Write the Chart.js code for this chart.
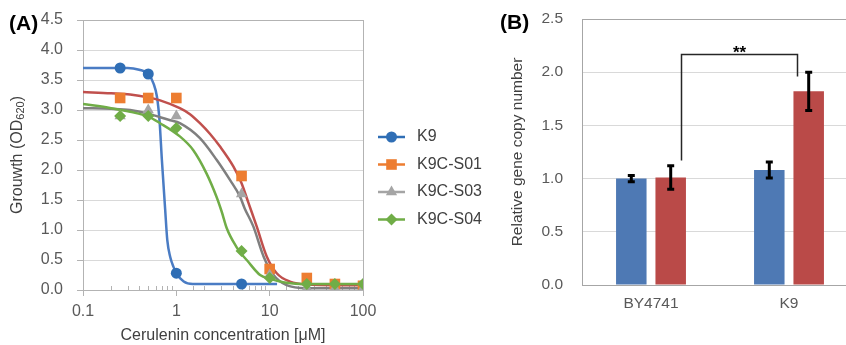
<!DOCTYPE html>
<html lang="en">
<head>
<meta charset="UTF-8">
<title>Cerulenin growth and gene copy number</title>
<script src="https://cdn.jsdelivr.net/npm/chart.js"></script>
<style>
  html, body { margin: 0; padding: 0; background: #fff; overflow: hidden; }
  #wrap { position: relative; width: 846px; height: 345px; overflow: hidden; }
  #chartA { position: absolute; left: 0; top: 0; }
  #chartB { position: absolute; left: 480px; top: 0; }
</style>
</head>
<body>
<div id="wrap">
  <canvas id="chartA" width="500" height="345"></canvas>
  <canvas id="chartB" width="400" height="345"></canvas>
</div>
<script>
// ---- (A) growth vs cerulenin, measured points ----
const seriesNames = ['K9', 'K9C-S01', 'K9C-S03', 'K9C-S04'];
const concK9 = [0.25, 0.5, 1, 5];
const growthK9 = [3.7, 3.6, 0.28, 0.1];
const concS = [0.25, 0.5, 1, 5, 10, 25, 50, 100];
const growthS01 = [3.2, 3.2, 3.2, 1.9, 0.35, 0.2, 0.1, 0.07];
const growthS03 = [2.9, 3.0, 2.9, 1.6, 0.25, 0.03, 0.03, 0.03];
const growthS04 = [2.9, 2.9, 2.7, 0.65, 0.2, 0.1, 0.1, 0.1];

// fitted curves
const fitK9x = [0.1, 0.2, 0.3, 0.4, 0.5, 0.57, 0.62, 0.66, 0.7, 0.76, 0.8, 0.86, 0.93, 1, 1.2, 1.5, 2, 12];
const fitK9y = [3.70, 3.70, 3.70, 3.67, 3.60, 3.44, 3.22, 2.83, 2.17, 1.33, 0.83, 0.55, 0.39, 0.28, 0.14, 0.10, 0.10, 0.10];
const fitS01x = [0.1, 0.2, 0.32, 0.5, 0.67, 1.09, 1.4, 1.79, 2.3, 2.94, 4.08, 5.0, 5.9, 7.26, 9.3, 11.9, 16.5, 25, 50, 100];
const fitS01y = [3.30, 3.28, 3.26, 3.21, 3.16, 3.03, 2.93, 2.78, 2.60, 2.39, 2.06, 1.78, 1.46, 1.06, 0.56, 0.28, 0.14, 0.09, 0.08, 0.08];
const fitS03x = [0.1, 0.2, 0.32, 0.5, 0.67, 0.86, 1.09, 1.79, 2.7, 3.77, 4.8, 5.4, 6.68, 8.6, 11, 15.2, 25, 50, 100];
const fitS03y = [3.03, 3.02, 3.00, 2.94, 2.88, 2.83, 2.78, 2.53, 2.17, 1.83, 1.56, 1.36, 1.06, 0.56, 0.25, 0.08, 0.03, 0.03, 0.03];
const fitS04x = [0.1, 0.2, 0.32, 0.5, 0.67, 1.09, 1.52, 2.11, 2.7, 3.07, 3.47, 4.4, 5, 5.68, 7.9, 10, 15.2, 25, 50, 100];
const fitS04y = [3.10, 3.03, 2.97, 2.89, 2.78, 2.56, 2.33, 1.94, 1.55, 1.30, 1.03, 0.72, 0.60, 0.50, 0.25, 0.19, 0.12, 0.10, 0.10, 0.10];

// ---- (B) relative gene copy number ----
const strains = ['BY4741', 'K9'];
const copyBlue = [1.0, 1.08];
const errBlue = [0.03, 0.075];
const copyRed = [1.01, 1.82];
const errRed = [0.11, 0.18];
const bracketX = [0.22, 1.06];          // category units
const bracketY = [1.17, 2.17, 1.96];    // left foot, top, right foot
const bracketText = '**';

const FONT = '"Liberation Sans", Arial, sans-serif';
Chart.defaults.font.family = FONT;
Chart.defaults.color = '#595959';

const markerColors = ['#2F6EB5', '#ED7D31', '#A5A5A5', '#70AD47'];
const lineColors = ['#4A7CC4', '#C0504D', '#7F7F7F', '#70AD47'];
const markerStyles = ['circle', 'rect', 'triangle', 'rectRot'];
const markerSizes = [5.5, 7.5, 6.5, 6];

function pts(xs, ys) {
    return xs.map((x, i) => ({ x: x, y: ys[i] }));
}

function markerSet(i, xs, ys, order) {
    return {
        label: seriesNames[i],
        data: pts(xs, ys),
        showLine: false,
        pointStyle: markerStyles[i],
        pointRadius: markerSizes[i],
        pointHoverRadius: markerSizes[i],
        pointBackgroundColor: markerColors[i],
        pointBorderWidth: 0,
        order: order
    };
}

function fitSet(i, xs, ys, order) {
    return {
        label: seriesNames[i] + ' fit',
        data: pts(xs, ys),
        showLine: true,
        pointRadius: 0,
        borderColor: lineColors[i],
        borderWidth: 2.5,
        cubicInterpolationMode: 'monotone',
        fill: false,
        order: order
    };
}

function isDecade(v) {
    const l = Math.log10(v);
    return Math.abs(l - Math.round(l)) < 1e-6;
}

// the y axes must not push the plot down for their top label
function fixY(width) {
    return s => {
        s.width = width;
        s.paddingTop = 0;
        s.paddingBottom = 0;
    };
}

// frame round the plot area
const frame = {
    id: 'frame',
    beforeDatasetsDraw(chart, args, opts) {
        const a = chart.chartArea, ctx = chart.ctx;
        ctx.save();
        ctx.strokeStyle = opts.color;
        ctx.lineWidth = 1;
        ctx.strokeRect(Math.round(a.left) + 0.5, Math.round(a.top) + 0.5,
            Math.round(a.right - a.left), Math.round(a.bottom - a.top));
        ctx.restore();
    }
};

// small minor ticks pointing up into the plot (log axis)
const minorTicks = {
    id: 'minorTicks',
    beforeDatasetsDraw(chart) {
        const xs = chart.scales.x, ctx = chart.ctx, b = chart.chartArea.bottom;
        ctx.save();
        ctx.strokeStyle = '#b3b3b3';
        ctx.lineWidth = 1;
        xs.ticks.forEach(t => {
            if (isDecade(t.value)) return;
            const px = Math.round(xs.getPixelForValue(t.value)) + 0.5;
            ctx.beginPath();
            ctx.moveTo(px, b);
            ctx.lineTo(px, b - 4);
            ctx.stroke();
        });
        ctx.restore();
    }
};

// legend, y title with subscript and panel label for (A)
const decorA = {
    id: 'decorA',
    afterDraw(chart) {
        const ctx = chart.ctx;
        ctx.save();
        seriesNames.forEach((name, i) => {
            const y = 137 + i * 27.5;
            ctx.strokeStyle = markerColors[i];
            ctx.lineWidth = 2.5;
            ctx.beginPath();
            ctx.moveTo(378, y);
            ctx.lineTo(405, y);
            ctx.stroke();
            ctx.fillStyle = markerColors[i];
            Chart.helpers.drawPoint(ctx, { pointStyle: markerStyles[i], radius: markerSizes[i], borderWidth: 0, rotation: 0 }, 391.5, y);
            ctx.fillStyle = '#404040';
            ctx.font = '16px ' + FONT;
            ctx.textBaseline = 'middle';
            ctx.textAlign = 'left';
            ctx.fillText(name, 417, y);
        });

        // y title: Grouwth (OD620)
        const a = chart.chartArea;
        const big = '16px ' + FONT, small = '11px ' + FONT;
        const parts = [['Grouwth (OD', big, 0], ['620', small, 3], [')', big, 0]];
        let total = 0;
        parts.forEach(p => { ctx.font = p[1]; total += ctx.measureText(p[0]).width; });
        ctx.translate(18, (a.top + a.bottom) / 2);
        ctx.rotate(-Math.PI / 2);
        ctx.fillStyle = '#404040';
        ctx.textBaseline = 'middle';
        let x = -total / 2;
        parts.forEach(p => {
            ctx.font = p[1];
            ctx.fillText(p[0], x, p[2]);
            x += ctx.measureText(p[0]).width;
        });
        ctx.restore();

        ctx.save();
        ctx.fillStyle = '#000';
        ctx.font = 'bold 21px ' + FONT;
        ctx.textBaseline = 'middle';
        ctx.fillText('(A)', 9, 24);
        ctx.restore();
    }
};

new Chart(document.getElementById('chartA'), {
    type: 'scatter',
    data: {
        datasets: [
            markerSet(0, concK9, growthK9, 3),
            markerSet(1, concS, growthS01, 2),
            markerSet(2, concS, growthS03, 1),
            markerSet(3, concS, growthS04, 0),
            fitSet(0, fitK9x, fitK9y, 7),
            fitSet(1, fitS01x, fitS01y, 6),
            fitSet(2, fitS03x, fitS03y, 5),
            fitSet(3, fitS04x, fitS04y, 4)
        ]
    },
    options: {
        responsive: false,
        animation: false,
        devicePixelRatio: 1,
        layout: { padding: { top: 20, right: 137, bottom: 0, left: 0 } },
        plugins: {
            legend: { display: false },
            tooltip: { enabled: false },
            frame: { color: '#b3b3b3' }
        },
        scales: {
            x: {
                type: 'logarithmic',
                min: 0.1,
                max: 100,
                afterFit: s => { s.height = 55; },
                border: { display: false },
                grid: {
                    drawOnChartArea: false,
                    tickLength: 6,
                    tickColor: c => (c.tick && isDecade(c.tick.value)) ? '#b3b3b3' : 'rgba(0,0,0,0)'
                },
                ticks: {
                    autoSkip: false,
                    maxRotation: 0,
                    padding: 6,
                    font: { size: 16 },
                    color: '#595959',
                    callback: v => isDecade(v) ? String(Number(v.toPrecision(3))) : ''
                },
                title: {
                    display: true,
                    text: 'Cerulenin concentration [\u03bcM]',
                    font: { size: 16 },
                    color: '#404040',
                    padding: { top: 0, bottom: 0 }
                }
            },
            y: {
                min: 0,
                max: 4.5,
                afterFit: fixY(83),
                border: { display: false },
                grid: { color: '#d9d9d9', tickLength: 6, tickColor: '#b3b3b3' },
                ticks: {
                    stepSize: 0.5,
                    padding: 14,
                    font: { size: 16 },
                    color: '#595959',
                    callback: v => v.toFixed(1)
                }
            }
        }
    },
    plugins: [frame, minorTicks, decorA]
});

// error bars, significance bracket and panel label for (B)
const decorB = {
    id: 'decorB',
    afterDatasetsDraw(chart) {
        const ctx = chart.ctx, ys = chart.scales.y, xs = chart.scales.x;
        ctx.save();
        ctx.strokeStyle = '#000';
        ctx.lineWidth = 3;
        chart.data.datasets.forEach((ds, d) => {
            chart.getDatasetMeta(d).data.forEach((bar, i) => {
                const v = ds.data[i], e = ds.errors[i];
                const yT = ys.getPixelForValue(v + e), yB = ys.getPixelForValue(v - e);
                ctx.beginPath();
                ctx.moveTo(bar.x, yT);
                ctx.lineTo(bar.x, yB);
                ctx.moveTo(bar.x - 3.5, yT);
                ctx.lineTo(bar.x + 3.5, yT);
                ctx.moveTo(bar.x - 3.5, yB);
                ctx.lineTo(bar.x + 3.5, yB);
                ctx.stroke();
            });
        });

        const x1 = Math.round(xs.getPixelForValue(bracketX[0])) + 0.5;
        const x2 = Math.round(xs.getPixelForValue(bracketX[1])) + 0.5;
        const yTop = Math.round(ys.getPixelForValue(bracketY[1])) + 0.5;
        ctx.strokeStyle = '#262626';
        ctx.lineWidth = 1.5;
        ctx.beginPath();
        ctx.moveTo(x1, ys.getPixelForValue(bracketY[0]));
        ctx.lineTo(x1, yTop);
        ctx.lineTo(x2, yTop);
        ctx.lineTo(x2, ys.getPixelForValue(bracketY[2]));
        ctx.stroke();

        ctx.fillStyle = '#000';
        ctx.font = 'bold 17px ' + FONT;
        ctx.textAlign = 'center';
        ctx.textBaseline = 'alphabetic';
        ctx.fillText(bracketText, (x1 + x2) / 2, yTop + 3);

        ctx.textAlign = 'left';
        ctx.textBaseline = 'middle';
        ctx.font = 'bold 21px ' + FONT;
        ctx.fillText('(B)', 20, 23);
        ctx.restore();
    }
};

new Chart(document.getElementById('chartB'), {
    type: 'bar',
    data: {
        labels: strains,
        datasets: [
            { label: 'series 1', data: copyBlue, errors: errBlue, backgroundColor: '#4E79B4', barPercentage: 0.774, categoryPercentage: 0.571 },
            { label: 'series 2', data: copyRed, errors: errRed, backgroundColor: '#BA4A48', barPercentage: 0.774, categoryPercentage: 0.571 }
        ]
    },
    options: {
        responsive: false,
        animation: false,
        devicePixelRatio: 1,
        layout: { padding: { top: 19, right: 22, bottom: 0, left: 0 } },
        plugins: {
            legend: { display: false },
            tooltip: { enabled: false },
            frame: { color: '#a6a6a6' }
        },
        scales: {
            x: {
                afterFit: s => { s.height = 60; },
                border: { display: false },
                grid: { display: false, drawTicks: false },
                ticks: { padding: 9.5, font: { size: 15.5 }, color: '#595959' }
            },
            y: {
                min: 0,
                max: 2.5,
                afterFit: fixY(102),
                border: { display: false },
                grid: { color: '#d9d9d9', drawTicks: false },
                ticks: {
                    stepSize: 0.5,
                    padding: 19,
                    font: { size: 15.5 },
                    color: '#595959',
                    callback: v => v.toFixed(1)
                },
                title: {
                    display: true,
                    text: 'Relative gene copy number',
                    font: { size: 15.5 },
                    color: '#404040',
                    padding: { top: 28.7, bottom: 0 }
                }
            }
        }
    },
    plugins: [frame, decorB]
});
</script>
</body>
</html>
